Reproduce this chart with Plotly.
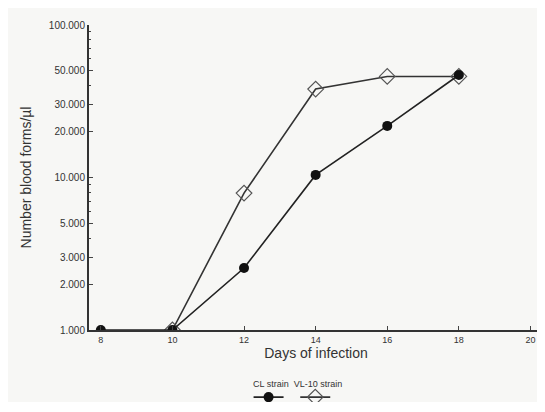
import plotly.graph_objects as go

days = [8, 10, 12, 14, 16, 18]
cl_strain = [1000, 1000, 2550, 10400, 21800, 47000]
vl_days = [10, 12, 14, 16, 18]
vl10_strain = [1000, 7900, 38000, 46000, 46000]

y_tickvals = [1000, 2000, 3000, 5000, 10000, 20000, 30000, 50000, 100000]
y_ticktext = ["1.000", "2.000", "3.000", "5.000", "10.000", "20.000", "30.000", "50.000", "100.000"]
x_tickvals = [8, 10, 12, 14, 16, 18, 20]

fig = go.Figure()
fig.add_trace(go.Scatter(
    x=vl_days, y=vl10_strain, mode="lines+markers", name=" ",
    line=dict(color="#333", width=1.6),
    marker=dict(symbol="diamond-open", size=12, color="#555", line=dict(width=1.2)),
))
fig.add_trace(go.Scatter(
    x=days, y=cl_strain, mode="lines+markers", name=" ",
    line=dict(color="#222", width=1.6),
    marker=dict(symbol="circle", size=10, color="#111"),
))

fig.update_layout(
    width=537, height=394,
    margin=dict(l=81, r=2, t=17, b=72, autoexpand=False),
    paper_bgcolor="#f7f7f5", plot_bgcolor="#f7f7f5",
    font=dict(family="Liberation Sans, Arial, sans-serif", color="#333", size=9),
    showlegend=True,
    legend=dict(orientation="h", x=0.455, xanchor="center", y=-0.22, yanchor="middle",
                traceorder="reversed", itemwidth=30, font=dict(size=6),
                bgcolor="rgba(0,0,0,0)"),
    xaxis=dict(range=[7.67, 20.35], tickvals=x_tickvals, ticks="inside", ticklen=4,
               showgrid=False, zeroline=False, showline=True, linecolor="#333", linewidth=2,
               title=dict(text="Days of infection", font=dict(size=14), standoff=3),
               tickfont=dict(size=9), ticklabeloverflow="allow"),
    yaxis=dict(type="log", range=[3, 5], tickvals=y_tickvals, ticktext=y_ticktext,
               ticks="inside", ticklen=4, showgrid=False, zeroline=False,
               showline=True, linecolor="#333", linewidth=2,
               minor=dict(ticks="inside", ticklen=2, tickvals=[4000, 6000, 7000, 8000, 9000, 40000, 60000, 70000, 80000, 90000]),
               title=dict(text="Number blood forms/µl", font=dict(size=14), standoff=14),
               tickfont=dict(size=10)),
    annotations=[dict(text="CL strain  VL-10 strain", x=0.46, y=-0.177, xref="paper",
                      yref="paper", showarrow=False, font=dict(size=9), xanchor="center",
                      yanchor="middle")],
)

fig.write_html("out.html")
